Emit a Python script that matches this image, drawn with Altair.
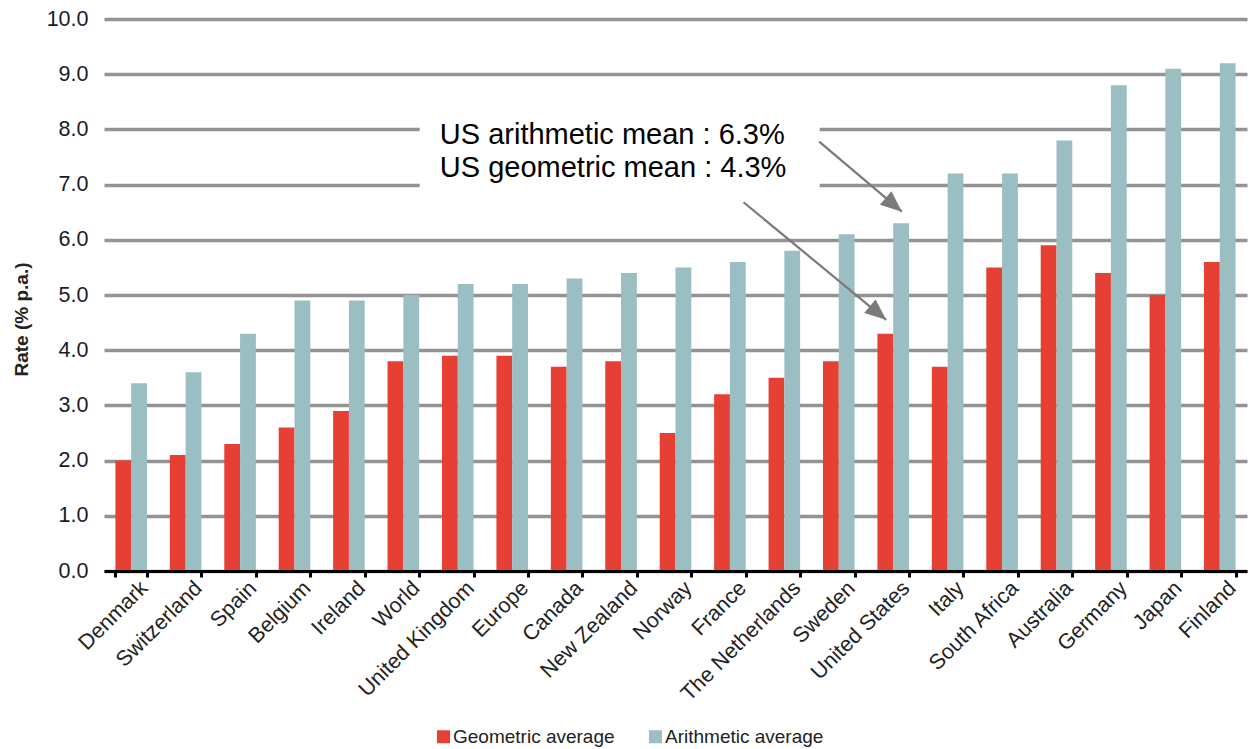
import altair as alt
import pandas as pd

# Long-run real equity returns by market (% p.a.)
countries = [
    "Denmark", "Switzerland", "Spain", "Belgium", "Ireland", "World",
    "United Kingdom", "Europe", "Canada", "New Zealand", "Norway", "France",
    "The Netherlands", "Sweden", "United States", "Italy", "South Africa",
    "Australia", "Germany", "Japan", "Finland",
]
geometric = [2.0, 2.1, 2.3, 2.6, 2.9, 3.8, 3.9, 3.9, 3.7, 3.8, 2.5, 3.2,
             3.5, 3.8, 4.3, 3.7, 5.5, 5.9, 5.4, 5.0, 5.6]
arithmetic = [3.4, 3.6, 4.3, 4.9, 4.9, 5.0, 5.2, 5.2, 5.3, 5.4, 5.5, 5.6,
              5.8, 6.1, 6.3, 7.2, 7.2, 7.8, 8.8, 9.1, 9.2]
series = ["Geometric average", "Arithmetic average"]
y_ticks = [0, 1, 2, 3, 4, 5, 6, 7, 8, 9, 10]

# Callout, in category-index units (x) and rate units (y)
note_lines = ["US arithmetic mean : 6.3%", "US geometric mean : 4.3%"]
note_x = [6.17, 6.17]
note_y = [7.73, 7.14]
box_x = [5.8, 13.15]
box_y = [6.72, 8.4]
arrow_x0 = [13.14, 11.75]
arrow_y0 = [7.78, 6.68]
arrow_x1 = [14.66, 14.37]
arrow_y1 = [6.51, 4.55]

FONT = "Liberation Sans"
RED = "#E63F33"
TEAL = "#9ABEC1"
GRID = "#939393"
ARROW = "#7A7A7A"

n = len(countries)
bars_df = pd.DataFrame({
    "country": countries * 2,
    "series": [series[0]] * n + [series[1]] * n,
    "rate": geometric + arithmetic,
})
note_df = pd.DataFrame({"text": note_lines, "x": note_x, "y": note_y})
box_df = pd.DataFrame({"x": [box_x[0]], "x2": [box_x[1]], "y": [box_y[0]], "y2": [box_y[1]]})
arrow_df = pd.DataFrame({"x": arrow_x0, "y": arrow_y0, "x2": arrow_x1, "y2": arrow_y1})

y_scale = alt.Scale(domain=[0, 10], nice=False)
idx_scale = alt.Scale(domain=[0, n], nice=False, zero=False)

bars = alt.Chart(bars_df).mark_bar().encode(
    x=alt.X(
        "country:N", sort=countries,
        scale=alt.Scale(paddingInner=0.42, paddingOuter=0.21),
        axis=alt.Axis(
            title=None, labelAngle=-45, labelFont=FONT, labelFontSize=21.5,
            labelColor="#222222", labelPadding=0, labelOffset=5,
            tickBand="extent", grid=False, domainColor="black", domainWidth=3,
            tickColor="black", tickWidth=3, tickSize=6, zindex=1,
        ),
    ),
    xOffset=alt.XOffset("series:N", sort=series,
                        scale=alt.Scale(paddingInner=0, paddingOuter=0)),
    y=alt.Y(
        "rate:Q", scale=y_scale,
        axis=alt.Axis(
            values=y_ticks, format=".1f", domain=False, ticks=False,
            labelFont=FONT, labelFontSize=21.5, labelColor="#1a1a2a",
            labelPadding=16, gridColor=GRID, gridWidth=3.5,
            title="Rate (% p.a.)", titleFont=FONT, titleFontSize=19,
            titleFontWeight="bold", titleColor="#222222", titleAngle=270,
            titleAlign="center", titleBaseline="middle", titleX=-83, titleY=300,
        ),
    ),
    color=alt.Color(
        "series:N",
        scale=alt.Scale(domain=series, range=[RED, TEAL]),
        legend=alt.Legend(
            title=None, orient="none", legendX=330, legendY=708,
            direction="horizontal", symbolType="square", symbolSize=169,
            symbolStrokeWidth=0, labelFont=FONT, labelFontSize=19,
            labelColor="#222222", labelOffset=0, labelLimit=0,
            columnPadding=31,
        ),
    ),
)

box = alt.Chart(box_df).mark_rect(color="white").encode(
    x=alt.X("x:Q", scale=idx_scale, axis=None),
    x2="x2:Q",
    y=alt.Y("y:Q", scale=y_scale),
    y2="y2:Q",
)

notes = alt.Chart(note_df).mark_text(
    align="left", baseline="alphabetic", font=FONT, fontSize=29, color="black",
).encode(
    x=alt.X("x:Q", scale=idx_scale, axis=None),
    y=alt.Y("y:Q", scale=y_scale),
    text="text:N",
)

shafts = alt.Chart(arrow_df).mark_rule(color=ARROW, strokeWidth=2.2).encode(
    x=alt.X("x:Q", scale=idx_scale, axis=None),
    x2="x2:Q",
    y=alt.Y("y:Q", scale=y_scale),
    y2="y2:Q",
)

heads = alt.Chart(arrow_df).mark_point(
    shape="M0,0 L0.42,1 L-0.42,1 Z", size=1800, angle=130,
    filled=True, color=ARROW, opacity=1,
).encode(
    x=alt.X("x2:Q", scale=idx_scale, axis=None),
    y=alt.Y("y2:Q", scale=y_scale),
)

chart = (
    alt.layer(bars, box, notes, shafts, heads)
    .resolve_scale(x="independent")
    .properties(
        width=1143, height=552,
        autosize=alt.AutoSizeParams(type="none"),
        padding={"left": 104, "top": 19, "right": 2, "bottom": 178},
        background="white",
    )
    .configure_view(stroke=None)
)

chart.save("out.html", embed_options={"renderer": "svg", "actions": False})
